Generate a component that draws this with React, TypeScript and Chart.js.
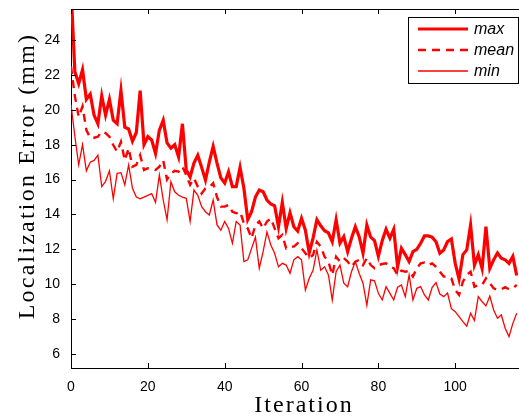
import React, { useEffect, useRef } from "react";
import { Chart, registerables } from "chart.js";

Chart.register(...registerables);

const seriesLabels = ["max", "mean", "min"];

const maxErr = [
  27.0, 22.2, 21.5, 22.3, 20.6, 20.9, 19.7, 19.2, 20.8, 19.7,
  20.6, 19.4, 19.2, 21.1, 19.0, 18.9, 18.2, 18.7, 21.1, 18.0,
  18.46, 18.27, 17.5, 18.84, 19.4, 18.1, 17.8, 18.0, 17.3, 19.2,
  16.55, 16.15, 16.95, 17.4, 16.7, 15.97, 17.0, 17.9, 16.95, 16.1,
  15.8, 16.45, 15.6, 15.6, 16.7, 15.5, 13.7, 14.16, 15.0, 15.4,
  15.3, 14.83, 14.6, 14.5, 13.3, 14.7, 13.2, 14.1, 13.3, 13.05,
  13.78, 13.1, 11.8, 12.65, 13.7, 13.35, 13.07, 12.94, 12.44, 13.7,
  12.36, 12.73, 11.87, 12.64, 13.3, 12.73, 11.78, 13.4, 12.7, 12.5,
  11.6, 12.5, 13.15, 12.64, 13.15, 11.0, 12.06, 11.7, 11.3, 11.87,
  12.0, 12.35, 12.77, 12.77, 12.7, 12.44, 11.78, 11.97, 12.45, 12.6,
  11.2, 10.3, 11.7, 11.97, 13.4, 11.1, 11.7, 10.9, 13.3, 10.9,
  11.4, 11.8, 11.5, 11.4, 11.2, 11.6, 10.5,
];

const meanErr = [
  22.5, 20.8, 19.6, 20.2, 18.84, 18.4, 18.4, 18.46, 18.75, 18.67,
  18.46, 17.98, 17.6, 18.17, 17.1, 17.8, 16.74, 16.84, 17.4, 16.55,
  16.65, 16.6, 16.55, 16.74, 17.1, 16.0, 16.36, 16.5, 16.45, 16.74,
  16.26, 15.7, 16.07, 15.6, 15.2, 15.5, 15.56, 15.8, 15.0, 14.45,
  14.45, 14.55, 14.16, 14.07, 14.16, 13.5, 13.2, 12.64, 13.4, 13.6,
  13.2, 13.6, 13.78, 13.2, 12.64, 12.83, 12.06, 12.16, 12.16, 12.35,
  12.06, 11.78, 11.5, 11.68, 12.44, 12.16, 11.58, 11.3, 10.53, 11.58,
  11.3, 11.5, 11.3, 11.0, 11.3, 11.4, 11.1, 11.5, 11.1, 10.92,
  11.1, 11.16, 11.2, 11.0, 10.92, 10.53, 10.78, 10.72, 10.78, 10.44,
  10.92, 11.2, 11.24, 11.1, 11.2, 11.0, 10.72, 10.44, 10.46, 10.34,
  9.67, 9.39, 10.15, 10.53, 10.72, 9.86, 9.96, 9.96, 10.34, 10.06,
  9.77, 9.67, 9.71, 9.83, 9.71, 9.77, 9.96,
];

const minErr = [
  20.3, 18.5, 16.85, 18.0, 16.5, 17.0, 17.1, 17.4, 15.6, 15.9,
  16.5, 14.9, 16.36, 16.4, 15.7, 16.84, 15.5, 15.0, 14.9, 15.0,
  15.1, 15.2, 14.7, 16.26, 14.83, 13.7, 15.88, 15.3, 15.1, 15.0,
  14.93, 13.6, 15.4, 15.1, 14.45, 14.16, 13.97, 14.83, 13.4, 13.1,
  13.6, 13.2, 12.35, 13.6, 13.4, 11.3, 11.4, 12.06, 12.7, 10.92,
  11.87, 13.0, 12.25, 11.78, 11.0, 11.2, 11.1, 10.63, 11.4, 11.58,
  11.4, 9.67, 10.34, 10.8, 11.97, 10.8, 11.0, 10.53, 9.1, 10.72,
  11.1, 10.06, 9.86, 10.72, 11.3, 10.63, 10.06, 8.8, 10.25, 10.2,
  9.48, 9.1, 9.86, 9.48, 9.1, 9.83, 9.96, 9.29, 10.53, 9.1,
  9.77, 9.86, 9.39, 9.1, 9.83, 10.1, 9.44, 9.29, 9.5, 8.6,
  8.43, 8.14, 7.86, 7.6, 8.34, 7.92, 9.29, 9.0, 8.76, 9.33,
  8.53, 8.05, 8.24, 7.48, 7.0, 7.76, 8.34,
];

const iterations = maxErr.map((_, i) => i);

const xTicks = [0, 20, 40, 60, 80, 100];
const yTicks = [6, 8, 10, 12, 14, 16, 18, 20, 22, 24];
const xTitle = "Iteration";
const yTitle = "Localization Error (mm)";

const RED = "#ff0000";

const frame = {
  id: "frame",
  afterDraw(chart: any) {
    const { ctx, chartArea, scales } = chart;
    const { left, right, top, bottom } = chartArea;
    ctx.save();
    ctx.strokeStyle = "#000";
    ctx.lineWidth = 1;
    ctx.beginPath();
    ctx.moveTo(left, Math.round(top) + 0.5);
    ctx.lineTo(right, Math.round(top) + 0.5);
    const tl = 5;
    for (const v of xTicks) {
      const px = Math.round(scales.x.getPixelForValue(v)) + 0.5;
      ctx.moveTo(px, bottom);
      ctx.lineTo(px, bottom - tl);
      ctx.moveTo(px, top);
      ctx.lineTo(px, top + tl);
    }
    for (const v of yTicks) {
      const py = Math.round(scales.y.getPixelForValue(v)) + 0.5;
      ctx.moveTo(left, py);
      ctx.lineTo(left + tl, py);
    }
    ctx.stroke();

    // axis titles
    ctx.fillStyle = "#000";
    ctx.font = "24px 'Liberation Serif'";
    try { (ctx as any).letterSpacing = "2px"; } catch (e) {}
    ctx.textAlign = "center";
    ctx.textBaseline = "middle";
    ctx.fillText(xTitle, 304, 406);
    ctx.translate(28, 176);
    ctx.rotate(-Math.PI / 2);
    try { (ctx as any).letterSpacing = "2.2px"; } catch (e) {}
    ctx.fillText(yTitle, 0, 0);
    try { (ctx as any).letterSpacing = "0px"; } catch (e) {}
    ctx.restore();

    // legend
    ctx.save();
    const bx = 408.5, by = 17.5, bw = 110, bh = 66;
    ctx.fillStyle = "#fff";
    ctx.fillRect(bx, by, bw, bh);
    ctx.strokeStyle = "#000";
    ctx.lineWidth = 1;
    ctx.strokeRect(bx, by, bw, bh);
    const rows = [29, 50, 71];
    chart.data.datasets.forEach((ds: any, i: number) => {
      ctx.strokeStyle = ds.borderColor;
      ctx.lineWidth = ds.borderWidth;
      ctx.setLineDash(ds.borderDash || []);
      ctx.beginPath();
      ctx.moveTo(418, rows[i]);
      ctx.lineTo(468, rows[i]);
      ctx.stroke();
      ctx.setLineDash([]);
      ctx.fillStyle = "#000";
      ctx.font = "italic 16px 'Liberation Sans'";
      ctx.textAlign = "left";
      ctx.textBaseline = "middle";
      ctx.fillText(ds.label, 474, rows[i] + 1);
    });
    ctx.restore();
  },
};

export default function App() {
  const ref = useRef<HTMLCanvasElement>(null);
  useEffect(() => {
    const toPts = (arr: number[]) => arr.map((v, i) => ({ x: iterations[i], y: v }));
    const chart = new Chart(ref.current as HTMLCanvasElement, {
      type: "line",
      data: {
        datasets: [
          {
            label: seriesLabels[0],
            data: toPts(maxErr),
            borderColor: RED,
            borderWidth: 3.2,
            pointRadius: 0,
            tension: 0,
          },
          {
            label: seriesLabels[1],
            data: toPts(meanErr),
            borderColor: RED,
            borderWidth: 2.4,
            borderDash: [8, 6],
            pointRadius: 0,
            tension: 0,
          },
          {
            label: seriesLabels[2],
            data: toPts(minErr),
            borderColor: RED,
            borderWidth: 1.3,
            pointRadius: 0,
            tension: 0,
          },
        ],
      },
      options: {
        animation: false,
        responsive: false,
        layout: { padding: { top: 9, left: 0, right: 0, bottom: 0 } },
        plugins: { legend: { display: false }, tooltip: { enabled: false } },
        scales: {
          x: {
            type: "linear",
            min: 0,
            max: 116.6,
            grid: { display: false, drawTicks: false },
            border: { display: true, color: "#000", width: 1 },
            ticks: {
              stepSize: 20,
              padding: 11,
              maxRotation: 0,
              autoSkip: false,
              color: "#000",
              font: { family: "'Liberation Sans'", size: 14 },
            },
            afterBuildTicks: (s: any) => {
              s.ticks = xTicks.map((v) => ({ value: v }));
            },
            afterFit: (s: any) => {
              s.height = 50;
              s.paddingLeft = 0;
              s.paddingRight = 0;
            },
          },
          y: {
            type: "linear",
            min: 5.2,
            max: 25.78,
            grid: { display: false, drawTicks: false },
            border: { display: true, color: "#000", width: 1 },
            ticks: {
              stepSize: 2,
              padding: 11,
              autoSkip: false,
              color: "#000",
              font: { family: "'Liberation Sans'", size: 14 },
            },
            afterBuildTicks: (s: any) => {
              s.ticks = yTicks.map((v) => ({ value: v }));
            },
            afterFit: (s: any) => {
              s.width = 71;
              s.paddingTop = 0;
              s.paddingBottom = 0;
            },
          },
        },
      },
      plugins: [frame],
    });
    return () => chart.destroy();
  }, []);
  return (
    <div style={{ position: "fixed", left: 0, top: 0, width: 519, height: 418, background: "#fff" }}>
      <canvas ref={ref} width={519} height={418} style={{ display: "block" }} />
    </div>
  );
}
